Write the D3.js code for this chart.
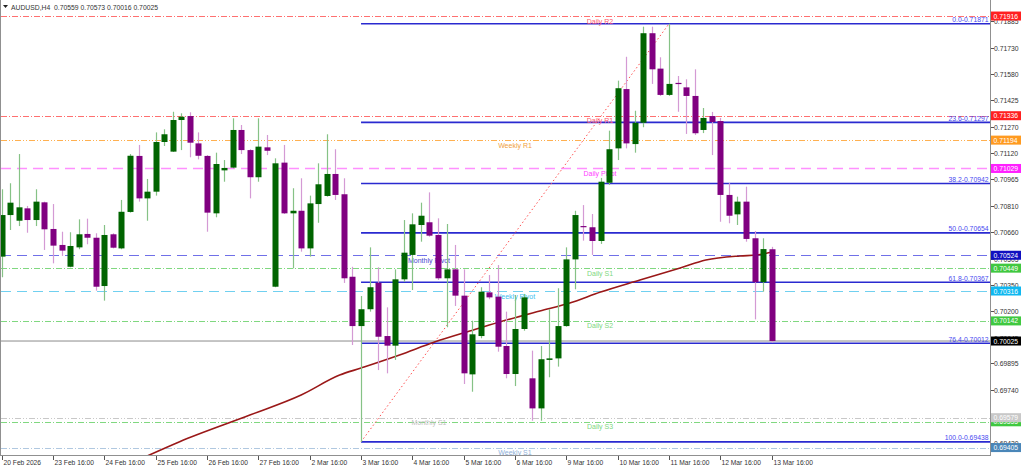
<!DOCTYPE html>
<html><head><meta charset="utf-8">
<script src="https://cdn.jsdelivr.net/npm/d3@7"></script>
<style>
html,body{margin:0;padding:0;background:#fff;}
svg{display:block;font-family:"Liberation Sans",Arial,sans-serif;}
</style></head>
<body>
<script>
// ---------- DATA ----------
const symbolTitle = "AUDUSD,H4  0.70559 0.70573 0.70016 0.70025";
// H4 candles, bar index 0 = 20 Feb 2026 16:00
const opens  = [0.70516,0.70758,0.70725,0.70797,0.70729,0.70832,0.70677,0.70584,0.70457,0.70570,
0.70648,0.70626,0.70345,0.70646,0.70564,0.70776,0.71102,0.70855,0.70894,0.71183,
0.71127,0.71311,0.71334,0.71175,0.71102,0.70768,0.71018,0.71034,0.71253,0.71136,
0.70978,0.71152,0.70341,0.71063,0.70768,0.70783,0.70564,0.70822,0.70869,0.70997,
0.70879,0.70399,0.70112,0.70210,0.70364,0.70054,0.69998,0.70384,0.70526,0.70700,
0.70716,0.70642,0.70390,0.70442,0.70289,0.69831,0.70054,0.70308,0.70283,0.69996,
0.69833,0.70095,0.69808,0.69633,0.69915,0.69924,0.70112,0.70500,0.70694,0.70687,
0.70607,0.70946,0.71146,0.71491,0.71171,0.71295,0.71816,0.71610,0.71457,0.71527,
0.71501,0.71451,0.71253,0.71334,0.71305,0.70875,0.70762,0.70836,0.70623,0.70367,0.70559];
const highs  = [0.70908,0.70943,0.71113,0.70811,0.70908,0.70836,0.70822,0.70661,0.70658,0.70733,
0.70737,0.70652,0.70700,0.70652,0.70846,0.71113,0.71166,0.70968,0.71239,0.71257,
0.71359,0.71350,0.71356,0.71239,0.71107,0.71121,0.71078,0.71321,0.71282,0.71141,
0.71321,0.71224,0.71088,0.71166,0.70914,0.70972,0.70871,0.71059,0.71228,0.71141,
0.70972,0.70457,0.70287,0.70570,0.70454,0.70221,0.70442,0.70729,0.70768,0.70830,
0.70890,0.70739,0.70706,0.70584,0.70442,0.70143,0.70338,0.70409,0.70467,0.70196,
0.70293,0.70299,0.69969,0.69996,0.70210,0.70332,0.70570,0.70783,0.70816,0.70764,
0.70974,0.71249,0.71540,0.71679,0.71365,0.71854,0.71854,0.71676,0.71871,0.71567,
0.71548,0.71606,0.71381,0.71358,0.71323,0.70944,0.70865,0.70923,0.70665,0.70623,0.70573];
const lows   = [0.70396,0.70671,0.70694,0.70655,0.70694,0.70555,0.70477,0.70520,0.70454,0.70559,
0.70588,0.70318,0.70260,0.70564,0.70559,0.70772,0.70836,0.70725,0.70871,0.71160,
0.71125,0.71136,0.71094,0.71082,0.70661,0.70745,0.70952,0.71030,0.71113,0.70855,
0.70952,0.71107,0.70338,0.70764,0.70448,0.70545,0.70516,0.70713,0.70865,0.70846,
0.70363,0.70002,0.69438,0.70196,0.69856,0.69837,0.69915,0.70370,0.70322,0.70603,
0.70632,0.70380,0.70105,0.70229,0.69775,0.69730,0.70041,0.70268,0.69963,0.69808,
0.69763,0.70085,0.69561,0.69561,0.69814,0.69876,0.70108,0.70326,0.70609,0.70526,
0.70590,0.70933,0.71078,0.71146,0.71121,0.71269,0.71521,0.71451,0.71451,0.71359,
0.71230,0.71224,0.71235,0.71107,0.70719,0.70710,0.70700,0.70603,0.70151,0.70312,0.70016];
const closes = [0.70758,0.70830,0.70803,0.70729,0.70836,0.70675,0.70580,0.70551,0.70578,0.70646,
0.70626,0.70341,0.70642,0.70568,0.70777,0.71103,0.70855,0.70894,0.71183,0.71228,
0.71311,0.71330,0.71179,0.71103,0.70772,0.71055,0.71032,0.71253,0.71136,0.70978,
0.71156,0.71132,0.71059,0.70768,0.70783,0.70564,0.70826,0.70937,0.70997,0.70875,
0.70390,0.70112,0.70210,0.70338,0.70050,0.69998,0.70384,0.70539,0.70704,0.70754,
0.70638,0.70390,0.70442,0.70289,0.69837,0.70064,0.70312,0.70279,0.69992,0.69833,
0.70095,0.70279,0.69633,0.69919,0.69924,0.70112,0.70500,0.70758,0.70690,0.70607,
0.70952,0.71141,0.71496,0.71175,0.71295,0.71816,0.71606,0.71457,0.71521,0.71522,
0.71451,0.71234,0.71323,0.71299,0.70875,0.70754,0.70836,0.70619,0.70367,0.70560,0.70025];

// moving average (at bar positions)
const maIdx  = [17,20.8,29,35,39.5,42,46.5,50.6,54.7,58.2,62.9,66.4,70,74.6,79.3,82.3,86.3,88.3,90];
const maVals = [0.69356,0.69439,0.69594,0.69711,0.69827,0.69868,0.69944,0.70019,0.70083,0.70136,
0.70200,0.70246,0.70310,0.70380,0.70450,0.70496,0.70520,0.70526,0.70543];

// pivot levels
const levelNames  = ["Daily R2","Daily R1","Weekly R1","Daily Pivot","Monthly Pivot","Daily S1","Weekly Pivot","Daily S2","Monthly S1","Daily S3","Weekly S1"];
const levelPrices = [0.71916,0.71336,0.71194,0.71029,0.70524,0.70449,0.70316,0.70142,0.69579,0.69555,0.69405];

// fibonacci retracement
const fibLevels = ["0.0","23.6","38.2","50.0","61.8","76.4","100.0"];
const fibPrices = [0.71871,0.71297,0.70942,0.70654,0.70367,0.70012,0.69438];
const fibFromIdx = 42, fibToIdx = 78;

const lastPrice = 0.70025;

// axes
const yTicks = [0.71885,0.71730,0.71580,0.71425,0.71270,0.71120,0.70965,0.70810,0.70660,0.70505,0.70350,0.70200,0.70045,0.69895,0.69740,0.69585,0.69430];
const xTickIdx = [0,6,12,18,24,30,36,42,48,54,60,66,72,78,84,90];
const xTickLabels = ["20 Feb 2026","23 Feb 16:00","24 Feb 16:00","25 Feb 16:00","26 Feb 16:00","27 Feb 16:00","2 Mar 16:00","3 Mar 16:00","4 Mar 16:00","5 Mar 16:00","6 Mar 16:00","9 Mar 16:00","10 Mar 16:00","11 Mar 16:00","12 Mar 16:00","13 Mar 16:00"];

// ---------- STYLE ----------
const W = 1024, H = 467, plotR = 990, plotB = 455;
const levelStyle = {
  "Daily R2":     {c:"#ff7070", dash:"6,2,1,2", w:1, tc:"#ff5a6e", tx:600},
  "Daily R1":     {c:"#ff7070", dash:"6,2,1,2", w:1, tc:"#ff5a6e", tx:600},
  "Weekly R1":    {c:"#ffb050", dash:"6,2,1,2,1,2", w:1, tc:"#f0a040", tx:515},
  "Daily Pivot":  {c:"#ff90ff", dash:"10,6", w:1.5, tc:"#ff40ff", tx:600},
  "Monthly Pivot":{c:"#7070e8", dash:"10,6", w:1.2, tc:"#4848d0", tx:429},
  "Daily S1":     {c:"#80d880", dash:"6,2,1,2", w:1, tc:"#80d880", tx:600},
  "Weekly Pivot": {c:"#70d0f0", dash:"10,6", w:1.2, tc:"#40c0f0", tx:515},
  "Daily S2":     {c:"#80d880", dash:"6,2,1,2", w:1, tc:"#80d880", tx:600},
  "Monthly S1":   {c:"#c8c8c8", dash:"6,2,1,2,1,2", w:1, tc:"#c0c0c0", tx:429},
  "Daily S3":     {c:"#80d880", dash:"6,2,1,2", w:1, tc:"#80d880", tx:600},
  "Weekly S1":    {c:"#b0c8e0", dash:"6,2,1,2", w:1, tc:"#90b0d8", tx:515}
};
const boxColors = {
  "Daily R2":"#ff2020","Daily R1":"#ff2020","Weekly R1":"#ff9a20","Daily Pivot":"#ff20ff",
  "Monthly Pivot":"#1010c0","Daily S1":"#40c840","Weekly Pivot":"#10b8f0","Daily S2":"#40c840",
  "Monthly S1":"#c8c8c8","Daily S3":"#40c840","Weekly S1":"#4a86b8"
};

// ---------- DRAW ----------
const svg = d3.select("body").append("svg").attr("width",W).attr("height",H);
svg.append("rect").attr("width",W).attr("height",H).attr("fill","#fff");

const x = d3.scaleLinear().domain([0,90]).range([1.7,771.7]);
const y = d3.scaleLinear().domain([0.693618,0.720093]).range([plotB,0]);

svg.append("defs").append("clipPath").attr("id","plot")
  .append("rect").attr("x",1).attr("y",0).attr("width",plotR-1).attr("height",plotB);
const g = svg.append("g").attr("clip-path","url(#plot)");

// pivot level lines
levelNames.forEach((n,i)=>{
  const s = levelStyle[n], yy = Math.round(y(levelPrices[i]))+0.5;
  g.append("line").attr("x1",1).attr("x2",plotR).attr("y1",yy).attr("y2",yy)
   .attr("stroke",s.c).attr("stroke-width",s.w).attr("stroke-dasharray",s.dash);
});

// current price line
g.append("line").attr("x1",1).attr("x2",plotR)
 .attr("y1",y(lastPrice)).attr("y2",y(lastPrice)).attr("stroke","#8c8c8c").attr("stroke-width",1);

// fib lines
fibPrices.forEach((p,i)=>{
  g.append("line").attr("x1",x(fibFromIdx)).attr("x2",plotR).attr("y1",y(p)).attr("y2",y(p))
   .attr("stroke","#2a2ad0").attr("stroke-width",1.6);
});
// fib trend line
g.append("line").attr("x1",x(fibFromIdx)).attr("y1",y(fibPrices[6]))
 .attr("x2",x(fibToIdx)).attr("y2",y(fibPrices[0]))
 .attr("stroke","#ff5050").attr("stroke-width",1).attr("stroke-dasharray","1.5,2.5");

// level labels
levelNames.forEach((n,i)=>{
  const s = levelStyle[n];
  g.append("text").attr("x",s.tx).attr("y",y(levelPrices[i])+7.5)
   .attr("text-anchor","middle").attr("font-size",7).attr("fill",s.tc).text(n);
});

// MA line
const maPts = maIdx.map((d,i)=>[d,maVals[i]]);
g.append("path").datum(maPts)
 .attr("d", d3.line().x(d=>x(d[0])).y(d=>y(d[1])).curve(d3.curveMonotoneX))
 .attr("fill","none").attr("stroke","#9a1818").attr("stroke-width",1.6);

// candles
const candles = opens.map((o,i)=>({i,o,h:highs[i],l:lows[i],c:closes[i]}));
const cg = g.append("g");
candles.forEach(d=>{
  const up = d.c >= d.o;
  const cx = Math.round(x(d.i))+0.5;
  cg.append("line").attr("x1",cx).attr("x2",cx).attr("y1",y(d.h)).attr("y2",y(d.l))
    .attr("stroke", up ? "#86c286" : "#d49ad4").attr("stroke-width",1.2);
  const top = y(Math.max(d.o,d.c)), bot = y(Math.min(d.o,d.c));
  cg.append("rect").attr("x",cx-3).attr("width",6)
    .attr("y",top).attr("height",Math.max(1.2,bot-top))
    .attr("fill", up ? "#006400" : "#800080");
});

// fib labels
fibLevels.forEach((lv,i)=>{
  svg.append("text").attr("x",988.5).attr("y",y(fibPrices[i])-1.5)
   .attr("text-anchor","end").attr("font-size",6.8).attr("fill","#4848f0")
   .text(lv+"-"+fibPrices[i].toFixed(5));
});

// frame
svg.append("line").attr("x1",0.5).attr("x2",0.5).attr("y1",0).attr("y2",plotB).attr("stroke","#909090");
svg.append("line").attr("x1",plotR+0.5).attr("x2",plotR+0.5).attr("y1",0).attr("y2",plotB+1).attr("stroke","#909090");
svg.append("line").attr("x1",0).attr("x2",plotR+1).attr("y1",plotB+0.5).attr("y2",plotB+0.5).attr("stroke","#909090");

// y axis ticks
yTicks.forEach(t=>{
  const yy = Math.round(y(t))+0.5;
  svg.append("line").attr("x1",plotR+1).attr("x2",plotR+4).attr("y1",yy).attr("y2",yy).attr("stroke","#555");
  svg.append("text").attr("x",994).attr("y",yy+2.5).attr("font-size",6.8).attr("fill","#333").text(t.toFixed(5));
});

// x axis ticks
xTickIdx.forEach((t,i)=>{
  const xx = Math.round(x(t))+0.5;
  svg.append("line").attr("x1",xx).attr("x2",xx).attr("y1",plotB+1).attr("y2",plotB+5).attr("stroke","#555");
  svg.append("text").attr("x",xx+1).attr("y",465).attr("font-size",6.7).attr("fill","#333").text(xTickLabels[i]);
});

// price boxes on right axis
const boxes = [];
levelNames.forEach((n,i)=>boxes.push({p:levelPrices[i], bg:boxColors[n], fg:"#fff", order: n==="Monthly S1"?2:1}));
boxes.push({p:lastPrice, bg:"#000", fg:"#fff", order:3});
boxes.sort((a,b)=>a.order-b.order);
boxes.forEach(b=>{
  const yy = y(b.p);
  svg.append("rect").attr("x",991).attr("y",yy-4.5).attr("width",30).attr("height",9).attr("fill",b.bg);
  svg.append("text").attr("x",993.5).attr("y",yy+2.5).attr("font-size",6.8).attr("fill",b.fg).text(b.p.toFixed(5));
});

// header
svg.append("path").attr("d","M3,5 L8,5 L5.5,8 Z").attr("fill","#222");
svg.append("text").attr("x",11).attr("y",9.5).attr("font-size",6.8).attr("fill","#333")
  .attr("xml:space","preserve").style("white-space","pre").text(symbolTitle);
</script>
</body></html>
